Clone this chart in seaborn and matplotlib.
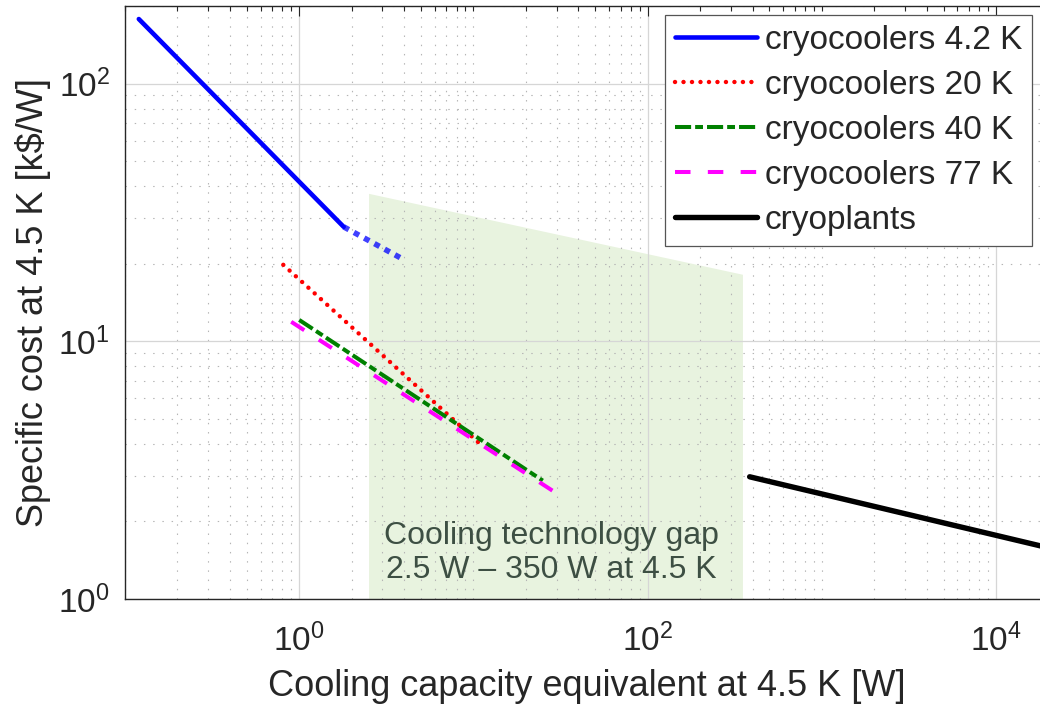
import numpy as np
import matplotlib
matplotlib.use("Agg")
import matplotlib.pyplot as plt
import seaborn as sns
from matplotlib.ticker import FixedLocator, LogLocator, NullFormatter, LogFormatterSciNotation

# Cooling capacity equivalent at 4.5 K [W] vs. specific cost [k$/W]
cc42_w = [0.12, 1.8]
cc42_cost = [178.0, 27.8]
cc42_ext_w = [1.8, 3.9]          # extrapolated range of 4.2 K cryocoolers
cc42_ext_cost = [27.8, 20.9]
cc20_w = [0.81, 10.9]
cc20_cost = [19.8, 4.0]
cc40_w = [1.0, 25.0]
cc40_cost = [12.1, 2.88]
cc77_w = [0.9, 29.0]
cc77_cost = [11.9, 2.61]
plant_w = [385.0, 20000.0]
plant_cost = [2.98, 1.58]

# Technology gap region
gap_w = [2.5, 350.0]
gap_top = [37.5, 18.2]
gap_bottom = [1.0, 1.0]

labels = ["cryocoolers 4.2 K", "cryocoolers 20 K", "cryocoolers 40 K",
          "cryocoolers 77 K", "cryoplants"]

sns.set_style("white")
plt.rcParams["font.family"] = ["Liberation Sans", "DejaVu Sans"]
plt.rcParams["mathtext.fontset"] = "custom"
plt.rcParams["mathtext.rm"] = "Liberation Sans"
plt.rcParams["mathtext.it"] = "Liberation Sans:italic"

FS_LABEL = 26
FS_TICK = 24
FS_LEG = 24
FS_NOTE = 23
TXT = "#262626"

fig = plt.figure(figsize=(10.4, 7.12), dpi=100)
ax = fig.add_axes([0.1202, 0.1587, 0.888, 0.8329])
ax.set_xscale("log")
ax.set_yscale("log")

ax.fill_between(gap_w, gap_bottom, gap_top, color="#e8f3df", lw=0, zorder=0.2)

sns.lineplot(x=cc42_w, y=cc42_cost, ax=ax, color="#0000ff", lw=3.3,
             label=labels[0], estimator=None, zorder=3)
sns.lineplot(x=cc42_ext_w, y=cc42_ext_cost, ax=ax, color="#0000ff", alpha=0.75,
             lw=4.0, linestyle=(0, (1.05, 1.05)), estimator=None, zorder=3)
sns.lineplot(x=cc20_w, y=cc20_cost, ax=ax, color="#ff0000", lw=3.2,
             linestyle=(0, (0.01, 1.9)), dash_capstyle="round",
             label=labels[1], estimator=None, zorder=3)
sns.lineplot(x=cc40_w, y=cc40_cost, ax=ax, color="#008000", lw=2.9,
             linestyle=(0, (4.0, 1.0, 1.95, 1.0)), label=labels[2],
             estimator=None, zorder=3)
sns.lineplot(x=cc77_w, y=cc77_cost, ax=ax, color="#ff00ff", lw=2.9,
             linestyle=(0, (3.85, 4.3)), label=labels[3], estimator=None, zorder=3)
sns.lineplot(x=plant_w, y=plant_cost, ax=ax, color="black", lw=3.9,
             label=labels[4], estimator=None, zorder=3)

ax.text(28, 1.51, "Cooling technology gap\n2.5 W \u2013 350 W at 4.5 K",
        ha="center", va="center", fontsize=FS_NOTE, color="#3d4f43",
        linespacing=1.2, zorder=2)

ax.set_xlim(0.1, 2e4)
ax.set_ylim(1, 200)

ax.xaxis.set_major_locator(FixedLocator([1, 100, 1e4]))
ax.xaxis.set_major_formatter(LogFormatterSciNotation())
ax.xaxis.set_minor_locator(LogLocator(base=10, subs=np.arange(1, 10), numticks=100))
ax.xaxis.set_minor_formatter(NullFormatter())
ax.yaxis.set_major_locator(FixedLocator([1, 10, 100]))
ax.yaxis.set_major_formatter(LogFormatterSciNotation())
ax.yaxis.set_minor_locator(LogLocator(base=10, subs=np.arange(2, 10), numticks=100))
ax.yaxis.set_minor_formatter(NullFormatter())

ax.set_axisbelow(True)
ax.grid(which="major", color="#d6d6d6", lw=0.9, ls="-")
ax.grid(which="minor", color="#b5b5b5", lw=0.8, ls=(0, (1.3, 7.0)))

for s in ax.spines.values():
    s.set_color(TXT)
    s.set_linewidth(1.0)
ax.spines["right"].set_visible(False)

ax.tick_params(which="both", direction="in", top=True, right=False,
               color=TXT, labelsize=FS_TICK, labelcolor=TXT)
ax.tick_params(axis="x", which="major", length=7.2, width=0.8, pad=18)
ax.tick_params(axis="y", which="major", length=7.2, width=0.8, pad=11)
ax.tick_params(which="minor", length=3.6, width=0.8)

ax.set_xlabel("Cooling capacity equivalent at 4.5 K [W]", fontsize=FS_LABEL, color=TXT)
ax.set_ylabel("Specific cost at 4.5 K [k$/W]", fontsize=FS_LABEL, color=TXT)
ax.xaxis.set_label_coords(0.5, -0.118)
ax.yaxis.set_label_coords(-0.08, 0.5)

leg = ax.legend(loc="upper right", bbox_to_anchor=(1032 / 1040, 1 - 15 / 712),
                bbox_transform=fig.transFigure, borderaxespad=0, fontsize=FS_LEG,
                frameon=True, fancybox=False, framealpha=1, edgecolor="#555555",
                handlelength=2.46, handletextpad=0.23, borderpad=0.3,
                labelspacing=0.42)
leg.get_frame().set_linewidth(0.9)
leg.set_zorder(5)

fig.savefig("out.png", dpi=100)
